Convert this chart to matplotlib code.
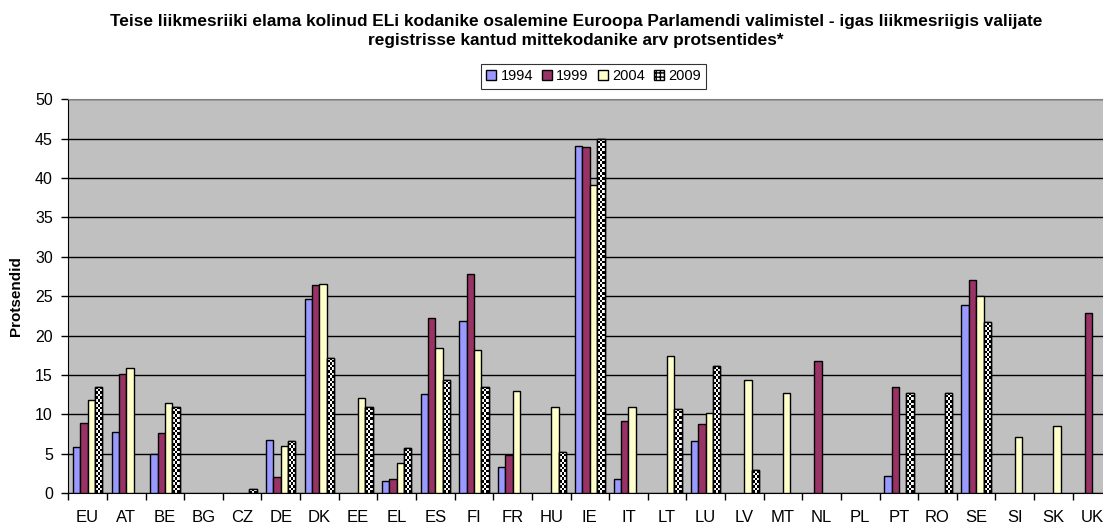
import numpy as np
import matplotlib
matplotlib.use('Agg')
import matplotlib.pyplot as plt
from matplotlib.patches import Patch

plt.rcParams['font.family'] = ['Liberation Sans', 'DejaVu Sans']

nan = np.nan
countries = ['EU', 'AT', 'BE', 'BG', 'CZ', 'DE', 'DK', 'EE', 'EL', 'ES', 'FI', 'FR', 'HU', 'IE',
             'IT', 'LT', 'LU', 'LV', 'MT', 'NL', 'PL', 'PT', 'RO', 'SE', 'SI', 'SK', 'UK']
years = ['1994', '1999', '2004', '2009']
v1994 = [5.9, 7.8, 5.0, nan, nan, 6.7, 24.7, nan, 1.5, 12.6, 21.9, 3.3, nan, 44.1,
         1.8, nan, 6.6, nan, nan, nan, nan, 2.2, nan, 23.9, nan, nan, nan]
v1999 = [8.9, 15.1, 7.6, nan, nan, 2.1, 26.4, nan, 1.8, 22.2, 27.8, 4.8, nan, 44.0,
         9.2, nan, 8.8, nan, nan, 16.8, nan, 13.5, nan, 27.1, nan, nan, 22.9]
v2004 = [11.9, 15.9, 11.4, nan, nan, 6.0, 26.6, 12.1, 3.9, 18.4, 18.2, 13.0, 10.9, 39.1,
         10.9, 17.4, 10.2, 14.4, 12.7, nan, nan, nan, nan, 25.0, 7.1, 8.5, nan]
v2009 = [13.5, nan, 11.0, nan, 0.5, 6.6, 17.2, 10.9, 5.7, 14.4, 13.5, nan, 5.3, 45.0,
         nan, 10.7, 16.1, 2.9, nan, nan, nan, 12.7, 12.7, 21.7, nan, nan, nan]

colors = ['#9999FF', '#993366', '#FFFFCC']

fig = plt.figure(figsize=(11.03, 5.27), dpi=100)
ax = fig.add_axes([0.0619, 0.064, 0.9457, 0.7476])
ax.set_facecolor('#C0C0C0')

x = np.arange(len(countries)) + 0.5
w = 0.19
offs = [-1.5 * w, -0.5 * w, 0.5 * w, 1.5 * w]

for vals, c, o in zip([v1994, v1999, v2004], colors, offs):
    ax.bar(x + o, vals, w, color=c, edgecolor='black', linewidth=1, zorder=3)

# 2009: checkerboard fill, clipped to each bar
px_per_unit = 394 / 50.0
bars09 = ax.bar(x + offs[3], v2009, w, color='white', edgecolor='black', linewidth=1, zorder=3)
for b, v in zip(bars09, v2009):
    if np.isnan(v):
        continue
    ny = max(1, int(round(v * px_per_unit / 2.6)))
    nx = 3
    chk = (np.add.outer(np.arange(ny), np.arange(nx)) % 2).astype(float)
    x0 = b.get_x()
    im = ax.imshow(chk, cmap='gray', vmin=0, vmax=1, interpolation='nearest',
                   extent=(x0, x0 + w, 0, v), aspect='auto', zorder=3.5, origin='lower')
    im.set_clip_path(b)
    ax.bar(x0 + w / 2, v, w, color='none', edgecolor='black', linewidth=1, zorder=4)

ax.set_xlim(0, len(countries))
ax.set_ylim(0, 50)
ax.set_yticks(np.arange(0, 51, 5))
ax.yaxis.grid(True, color='black', linewidth=1)
ax.set_axisbelow(True)

ax.set_xticks(np.arange(0, len(countries) + 1))
ax.set_xticklabels([])
ax.set_xticks(x, minor=True)
ax.set_xticklabels(countries, minor=True, fontsize=12)
ax.tick_params(axis='x', which='minor', length=0, pad=12)
ax.tick_params(axis='x', which='major', length=5, width=1, color='black')
ax.tick_params(axis='y', length=5, width=1, labelsize=11.5, pad=6)

ax.spines['right'].set_visible(False)
ax.spines['top'].set_color('#808080')
ax.spines['left'].set_color('black')
ax.spines['bottom'].set_color('black')

ax.set_ylabel('Protsendid', fontsize=11, fontweight='bold', labelpad=9)

fig.text(0.522, 0.959, 'Teise liikmesriiki elama kolinud ELi kodanike osalemine Euroopa Parlamendi valimistel - igas liikmesriigis valijate',
         ha='center', va='center', fontsize=12.4, fontweight='bold')
fig.text(0.522, 0.924, 'registrisse kantud mittekodanike arv protsentides*',
         ha='center', va='center', fontsize=12.4, fontweight='bold')

handles = [Patch(facecolor=c, edgecolor='black', label=y) for c, y in zip(colors, years[:3])]
handles.append(Patch(facecolor='white', edgecolor='black', hatch='++++', label=years[3]))
leg = fig.legend(handles=handles, loc='center', bbox_to_anchor=(0.538, 0.855), ncol=4,
                 fontsize=10.5, frameon=True, fancybox=False, handlelength=0.7, handleheight=0.7,
                 handletextpad=0.3, columnspacing=0.6, borderpad=0.35, borderaxespad=0)
leg.get_frame().set_edgecolor('black')
leg.get_frame().set_linewidth(0.8)

fig.savefig('out.png', dpi=100)
